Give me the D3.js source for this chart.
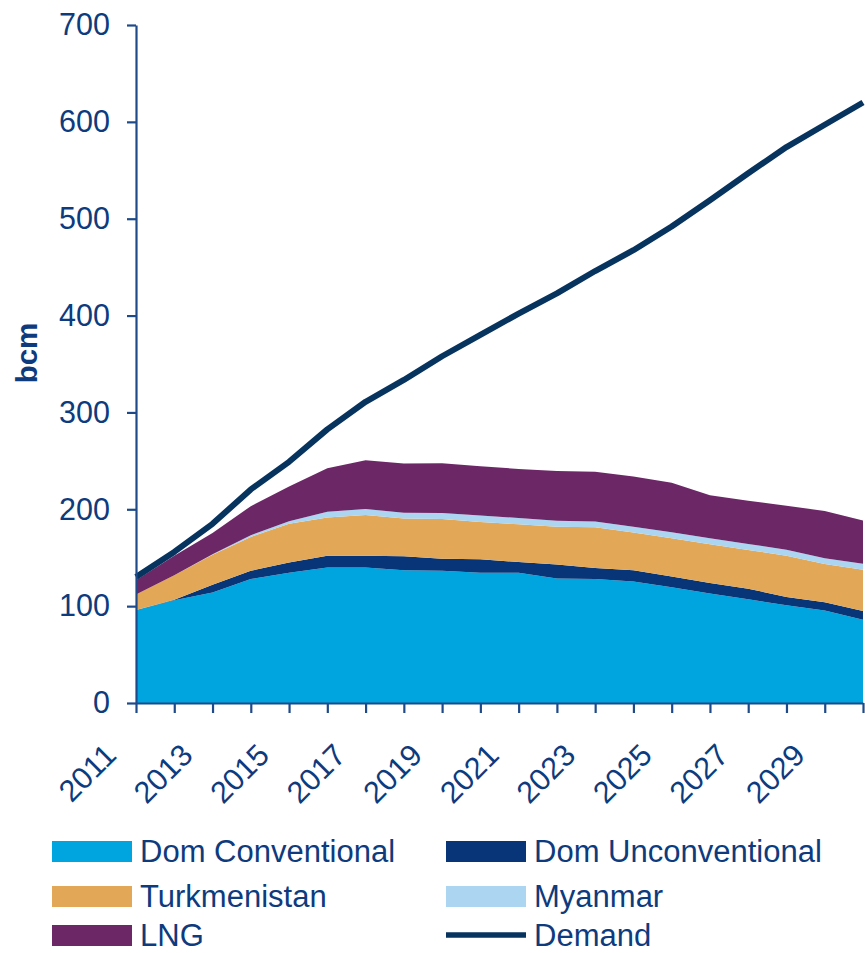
<!DOCTYPE html>
<html>
<head>
<meta charset="utf-8">
<script src="https://cdn.jsdelivr.net/npm/d3@7"></script>
<style>
  body { margin: 0; background: #fff; }
  text { font-family: "Liberation Sans", Arial, sans-serif; fill: #0d3b7d; }
</style>
</head>
<body>
<div id="chart"></div>
<script>
// years on the category axis
var years = [2011, 2012, 2013, 2014, 2015, 2016, 2017, 2018, 2019, 2020,
             2021, 2022, 2023, 2024, 2025, 2026, 2027, 2028, 2029, 2030];
var yearLabels = [2011, 2013, 2015, 2017, 2019, 2021, 2023, 2025, 2027, 2029];
var yTicks = [0, 100, 200, 300, 400, 500, 600, 700];

// supply (bcm), stacked bottom to top
var domConventional = [96, 106, 114, 128, 134.5, 140, 140, 137, 136.5, 134.5,
                       134.5, 128.5, 128, 125.5, 119.5, 113, 107, 101, 95.5, 86];
var domUnconventional = [0, 0.5, 8, 8.5, 10.5, 12, 12, 14.5, 12.5, 14,
                         11, 14.5, 11.5, 11.5, 11, 11, 11, 8.5, 8.5, 9];
var turkmenistan = [16, 25.5, 31, 35, 40, 39.5, 42, 39, 41, 38.5,
                    39, 39, 42, 39, 39.5, 40, 40, 42.5, 39.5, 42.5];
var myanmar = [0, 0, 0.5, 1.7, 2.7, 5.9, 6.2, 5.9, 6.2, 6.5,
               6.5, 6.2, 6, 6, 6.2, 6.1, 6.2, 6.2, 6, 6.2];
var lng = [14.8, 20, 22, 30, 35.8, 45, 50.5, 51, 51.3, 51,
           50.6, 51.3, 51.3, 51.9, 51.3, 44.4, 44.7, 45.4, 48.8, 44.7];
var demand = [130, 156, 185, 220.5, 249, 282.5, 311, 333.5, 358, 380,
              402, 423, 446, 467.5, 492, 519, 547, 574, 597, 620];

var seriesNames = ["Dom Conventional", "Dom Unconventional", "Turkmenistan", "Myanmar", "LNG"];
var seriesColors = ["#00a5e0", "#073577", "#e2a858", "#acd5f1", "#6c2767"];
var demandColor = "#07335f";

var width = 865, height = 953;

var svg = d3.select("#chart").append("svg")
    .attr("width", width)
    .attr("height", height);

var x = d3.scalePoint().domain(years).range([136, 863]);
var y = d3.scaleLinear().domain([0, 700]).range([703, 25]);

var table = years.map(function(yr, i) {
  return {
    year: yr,
    "Dom Conventional": domConventional[i],
    "Dom Unconventional": domUnconventional[i],
    "Turkmenistan": turkmenistan[i],
    "Myanmar": myanmar[i],
    "LNG": lng[i]
  };
});

var stacked = d3.stack().keys(seriesNames)(table);

var area = d3.area()
    .x(function(d) { return x(d.data.year); })
    .y0(function(d) { return y(d[0]); })
    .y1(function(d) { return y(d[1]); });

svg.append("g").selectAll("path")
    .data(stacked)
  .enter().append("path")
    .attr("d", area)
    .attr("fill", function(d, i) { return seriesColors[i]; });

var line = d3.line()
    .x(function(d, i) { return x(years[i]); })
    .y(function(d) { return y(d); });

svg.append("path")
    .datum(demand)
    .attr("d", line)
    .attr("fill", "none")
    .attr("stroke", demandColor)
    .attr("stroke-width", 6)
    .attr("stroke-linejoin", "round");

// axes
var yAxis = svg.append("g")
    .attr("transform", "translate(136,0)")
    .call(d3.axisLeft(y).tickValues(yTicks).tickSize(9).tickSizeOuter(0).tickPadding(17));

var xAxis = svg.append("g")
    .attr("transform", "translate(0,703)")
    .call(d3.axisBottom(x).tickSize(10).tickSizeOuter(0).tickFormat(""));

svg.selectAll(".domain, .tick line")
    .attr("stroke", "#1f4a8a")
    .attr("stroke-width", 2.2);

yAxis.selectAll("text")
    .attr("font-size", 30.5)
    .attr("fill", "#0d3b7d")
    .attr("font-family", "Liberation Sans, Arial, sans-serif");

xAxis.selectAll("text").remove();

svg.append("g").selectAll("text")
    .data(yearLabels)
  .enter().append("text")
    .attr("transform", function(d) {
      return "translate(" + (x(d) - 18) + ",757) rotate(-45)";
    })
    .attr("text-anchor", "end")
    .attr("font-size", 30.5)
    .text(function(d) { return d; });

svg.append("text")
    .attr("transform", "translate(37,353) rotate(-90)")
    .attr("text-anchor", "middle")
    .attr("font-size", 29.5)
    .attr("font-weight", "bold")
    .text("bcm");

// legend
var legendItems = [
  {name: "Dom Conventional", color: seriesColors[0], col: 0, row: 0},
  {name: "Dom Unconventional", color: seriesColors[1], col: 1, row: 0},
  {name: "Turkmenistan", color: seriesColors[2], col: 0, row: 1},
  {name: "Myanmar", color: seriesColors[3], col: 1, row: 1},
  {name: "LNG", color: seriesColors[4], col: 0, row: 2},
  {name: "Demand", color: demandColor, col: 1, row: 2, line: true}
];
var legendX = [52, 446];
var legendY = [841, 886, 925];

var legend = svg.append("g").selectAll("g")
    .data(legendItems)
  .enter().append("g")
    .attr("transform", function(d) {
      return "translate(" + legendX[d.col] + "," + legendY[d.row] + ")";
    });

legend.filter(function(d) { return !d.line; }).append("rect")
    .attr("width", 80)
    .attr("height", 21)
    .attr("fill", function(d) { return d.color; });

legend.filter(function(d) { return d.line; }).append("line")
    .attr("x1", 0).attr("x2", 80)
    .attr("y1", 10).attr("y2", 10)
    .attr("stroke", function(d) { return d.color; })
    .attr("stroke-width", 5.5);

legend.append("text")
    .attr("x", 88)
    .attr("y", 21)
    .attr("font-size", 31)
    .text(function(d) { return d.name; });
</script>
</body>
</html>
